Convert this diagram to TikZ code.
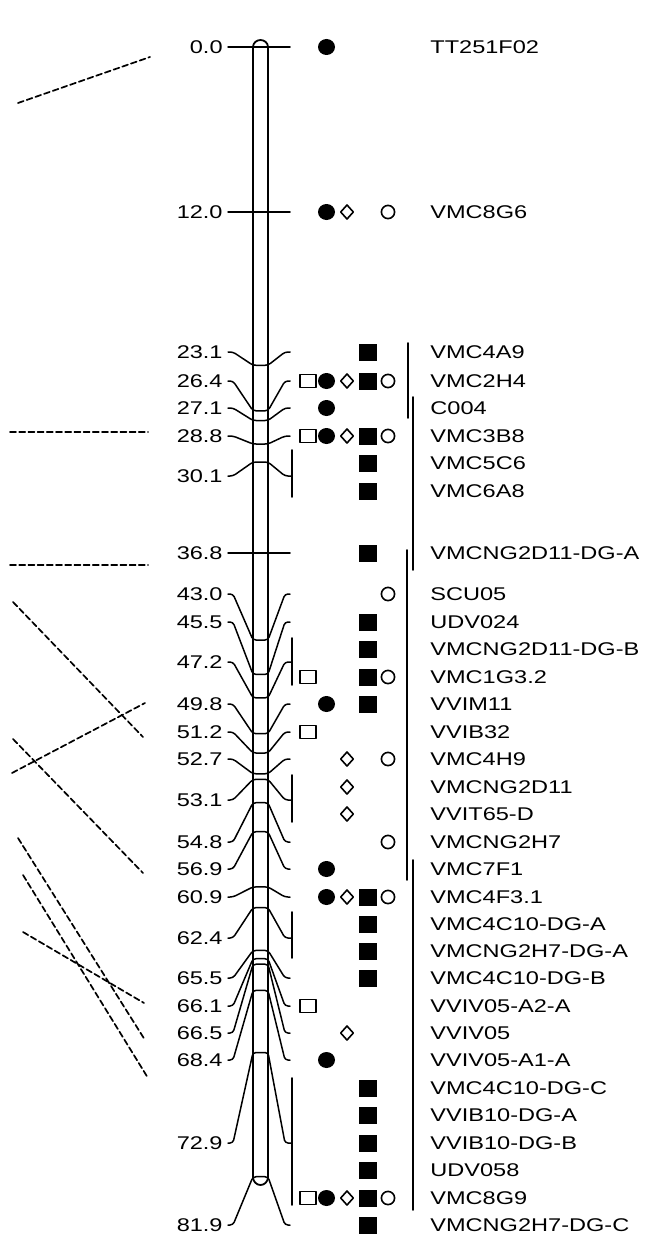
\documentclass[tikz,border=0pt]{standalone}
\usepackage{fontspec}
\setmainfont{Liberation Sans}[FakeStretch=1.28]

\begin{document}
\begin{tikzpicture}[x=0.5pt,y=-0.5pt,line cap=round,line join=round,
  poslabel/.style={anchor=east,inner sep=2.5pt,font=\fontsize{9.2}{10}\selectfont},
  mkname/.style={anchor=west,inner sep=0pt,font=\fontsize{9.2}{10}\selectfont},
  link/.style={line width=0.75pt,rounded corners=1.5pt},
  groupbar/.style={line width=0.9pt},
  extlink/.style={line width=0.85pt,dash pattern=on 3pt off 1.6pt},
  opensym/.style={line width=0.8pt}]
  \useasboundingbox (0,0) rectangle (672,1252);

  \draw[extlink] (18,103) -- (150,57);
  \draw[extlink] (10,432) -- (148,432);
  \draw[extlink] (10,565) -- (148,565);
  \draw[extlink] (13,602) -- (143,737);
  \draw[extlink] (12,773) -- (145,703);
  \draw[extlink] (13,739) -- (143,873);
  \draw[extlink] (18,838) -- (145,1040);
  \draw[extlink] (23,875) -- (148,1078);
  \draw[extlink] (23,932) -- (144,1003);

  \draw[line width=0.9pt] (253,47) -- (253,1177)
    arc[start angle=180,end angle=360,x radius=3.75pt,y radius=4pt]
    -- (268,47) arc[start angle=0,end angle=180,x radius=3.75pt,y radius=3.5pt];

  \foreach \t/\yl/\yb/\xr in {0.0/47/47/290,12.0/212/212/290,23.1/352/365.3/290,
      26.4/381/410.8/290,27.1/408/420.5/290,28.8/436/444/290,30.1/476/462/292,
      36.8/553/553/290,43.0/594/640/290,45.5/622/674.4/290,47.2/662/697.9/292,
      49.8/704/733.7/290,51.2/732/753/290,52.7/759/773.8/290,53.1/800/779.3/292,
      54.8/842/802.7/290,56.9/869/831.7/290,60.9/897/886.9/290,62.4/938/907.6/292,
      65.5/978/950.4/290,66.1/1006/958.7/290,66.5/1033/964.2/290,68.4/1060/990.4/290,
      72.9/1143/1052.5/292,81.9/1225/1176.7/290}{
    \node[poslabel] (p\yl) at (228,\yl) {\t};
    \coordinate (bl\yl) at (253,\yb);
    \coordinate (br\yl) at (268,\yb);
    \coordinate (r\yl) at (\xr,\yl);
    \draw[link] (p\yl.east) -- ++(5,0) -- (bl\yl) -- (br\yl) -- (285,\yl) -- (r\yl);
  }

  \draw[groupbar] (292,450) -- (292,497);
  \draw[groupbar] (292,638) -- (292,685);
  \draw[groupbar] (292,775) -- (292,822);
  \draw[groupbar] (292,912) -- (292,958);
  \draw[groupbar] (292,1078) -- (292,1205);

  \foreach \y in {381,436,677,732,1006,1198}
    \draw[opensym] (300,\y-6.5) rectangle (316,\y+6.5);
  \foreach \y in {47,212,381,408,436,704,869,897,1060,1198}
    \fill (326.5,\y) circle[x radius=4.25pt,y radius=4pt];
  \foreach \y in {212,381,436,759,787,814,897,1033,1198}
    \draw[opensym] (340.7,\y) -- (347,\y-7) -- (353.3,\y) -- (347,\y+7) -- cycle;
  \foreach \y in {352,381,436,463,491,553,622,649,677,704,897,924,951,978,1088,1115,1143,1170,1198,1225}
    \fill (359,\y-8.5) rectangle (376.5,\y+8.5);
  \foreach \y in {212,381,436,594,677,759,842,897,1198}
    \draw[opensym] (388,\y) circle[radius=3.3pt];

  \draw[groupbar] (408,343) -- (408,418);
  \draw[groupbar] (413,397) -- (413,570);
  \draw[groupbar] (407,550) -- (407,880);
  \draw[groupbar] (413,860) -- (413,1210);

  \foreach \m/\y in {TT251F02/47,VMC8G6/212,VMC4A9/352,VMC2H4/381,C004/408,
      VMC3B8/436,VMC5C6/463,VMC6A8/491,VMCNG2D11-DG-A/553,SCU05/594,UDV024/622,
      VMCNG2D11-DG-B/649,VMC1G3.2/677,VVIM11/704,VVIB32/732,VMC4H9/759,
      VMCNG2D11/787,VVIT65-D/814,VMCNG2H7/842,VMC7F1/869,VMC4F3.1/897,
      VMC4C10-DG-A/924,VMCNG2H7-DG-A/951,VMC4C10-DG-B/978,VVIV05-A2-A/1006,
      VVIV05/1033,VVIV05-A1-A/1060,VMC4C10-DG-C/1088,VVIB10-DG-A/1115,
      VVIB10-DG-B/1143,UDV058/1170,VMC8G9/1198,VMCNG2H7-DG-C/1225}
    \node[mkname] (m\y) at (430,\y) {\m};
\end{tikzpicture}
\end{document}
